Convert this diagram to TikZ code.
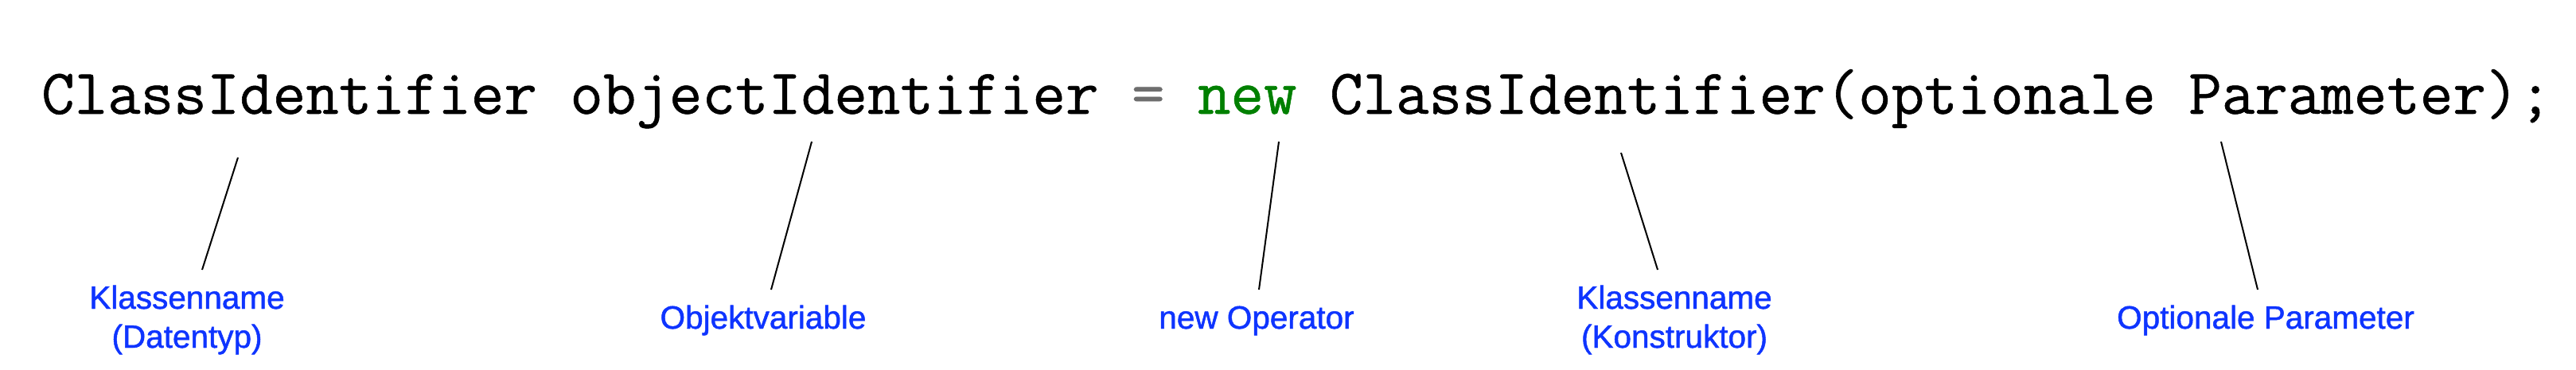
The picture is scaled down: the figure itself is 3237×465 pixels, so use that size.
\documentclass[tikz,border=0pt]{standalone}
\usepackage{fontspec}
\setsansfont{Liberation Sans}[FakeBold=1.2]
\setmonofont{Latin Modern Mono}[FakeBold=0.7]
\definecolor{lblblue}{RGB}{14,52,255}
\definecolor{kwgreen}{RGB}{0,128,0}
\definecolor{opgray}{RGB}{110,110,110}
\begin{document}
\begin{tikzpicture}[x=1pt,y=-1pt,
  code/.style={anchor=base west,inner sep=0pt,font=\ttfamily\fontsize{80.6}{90}\selectfont},
  lbl/.style={anchor=base,inner sep=0pt,align=center,text=lblblue,font=\sffamily\fontsize{40.5}{49}\selectfont},
  conn/.style={line width=2pt,black}]
\useasboundingbox[fill=white] (0,0) rectangle (3237,465);
\node[code] (code) at (52,143) {ClassIdentifier objectIdentifier {\color{opgray}=} {\color{kwgreen}new} ClassIdentifier(optionale Parameter);};
\node[lbl] (l1) at (235,437) {Klassenname\\(Datentyp)};
\node[lbl] (l2) at (959,413) {Objektvariable};
\node[lbl] (l3) at (1579,413) {new Operator};
\node[lbl] (l4) at (2104,437) {Klassenname\\(Konstruktor)};
\node[lbl] (l5) at (2847,413) {Optionale Parameter};
\coordinate (t1) at (299,198); \coordinate (b1) at (254,339);
\coordinate (t2) at (1020,178); \coordinate (b2) at (969,364);
\coordinate (t3) at (1607,178); \coordinate (b3) at (1582,364);
\coordinate (t4) at (2037,192); \coordinate (b4) at (2083,339);
\coordinate (t5) at (2791,178); \coordinate (b5) at (2837,364);
\draw[conn] (t1) -- (b1);
\draw[conn] (t2) -- (b2);
\draw[conn] (t3) -- (b3);
\draw[conn] (t4) -- (b4);
\draw[conn] (t5) -- (b5);
\end{tikzpicture}
\end{document}
